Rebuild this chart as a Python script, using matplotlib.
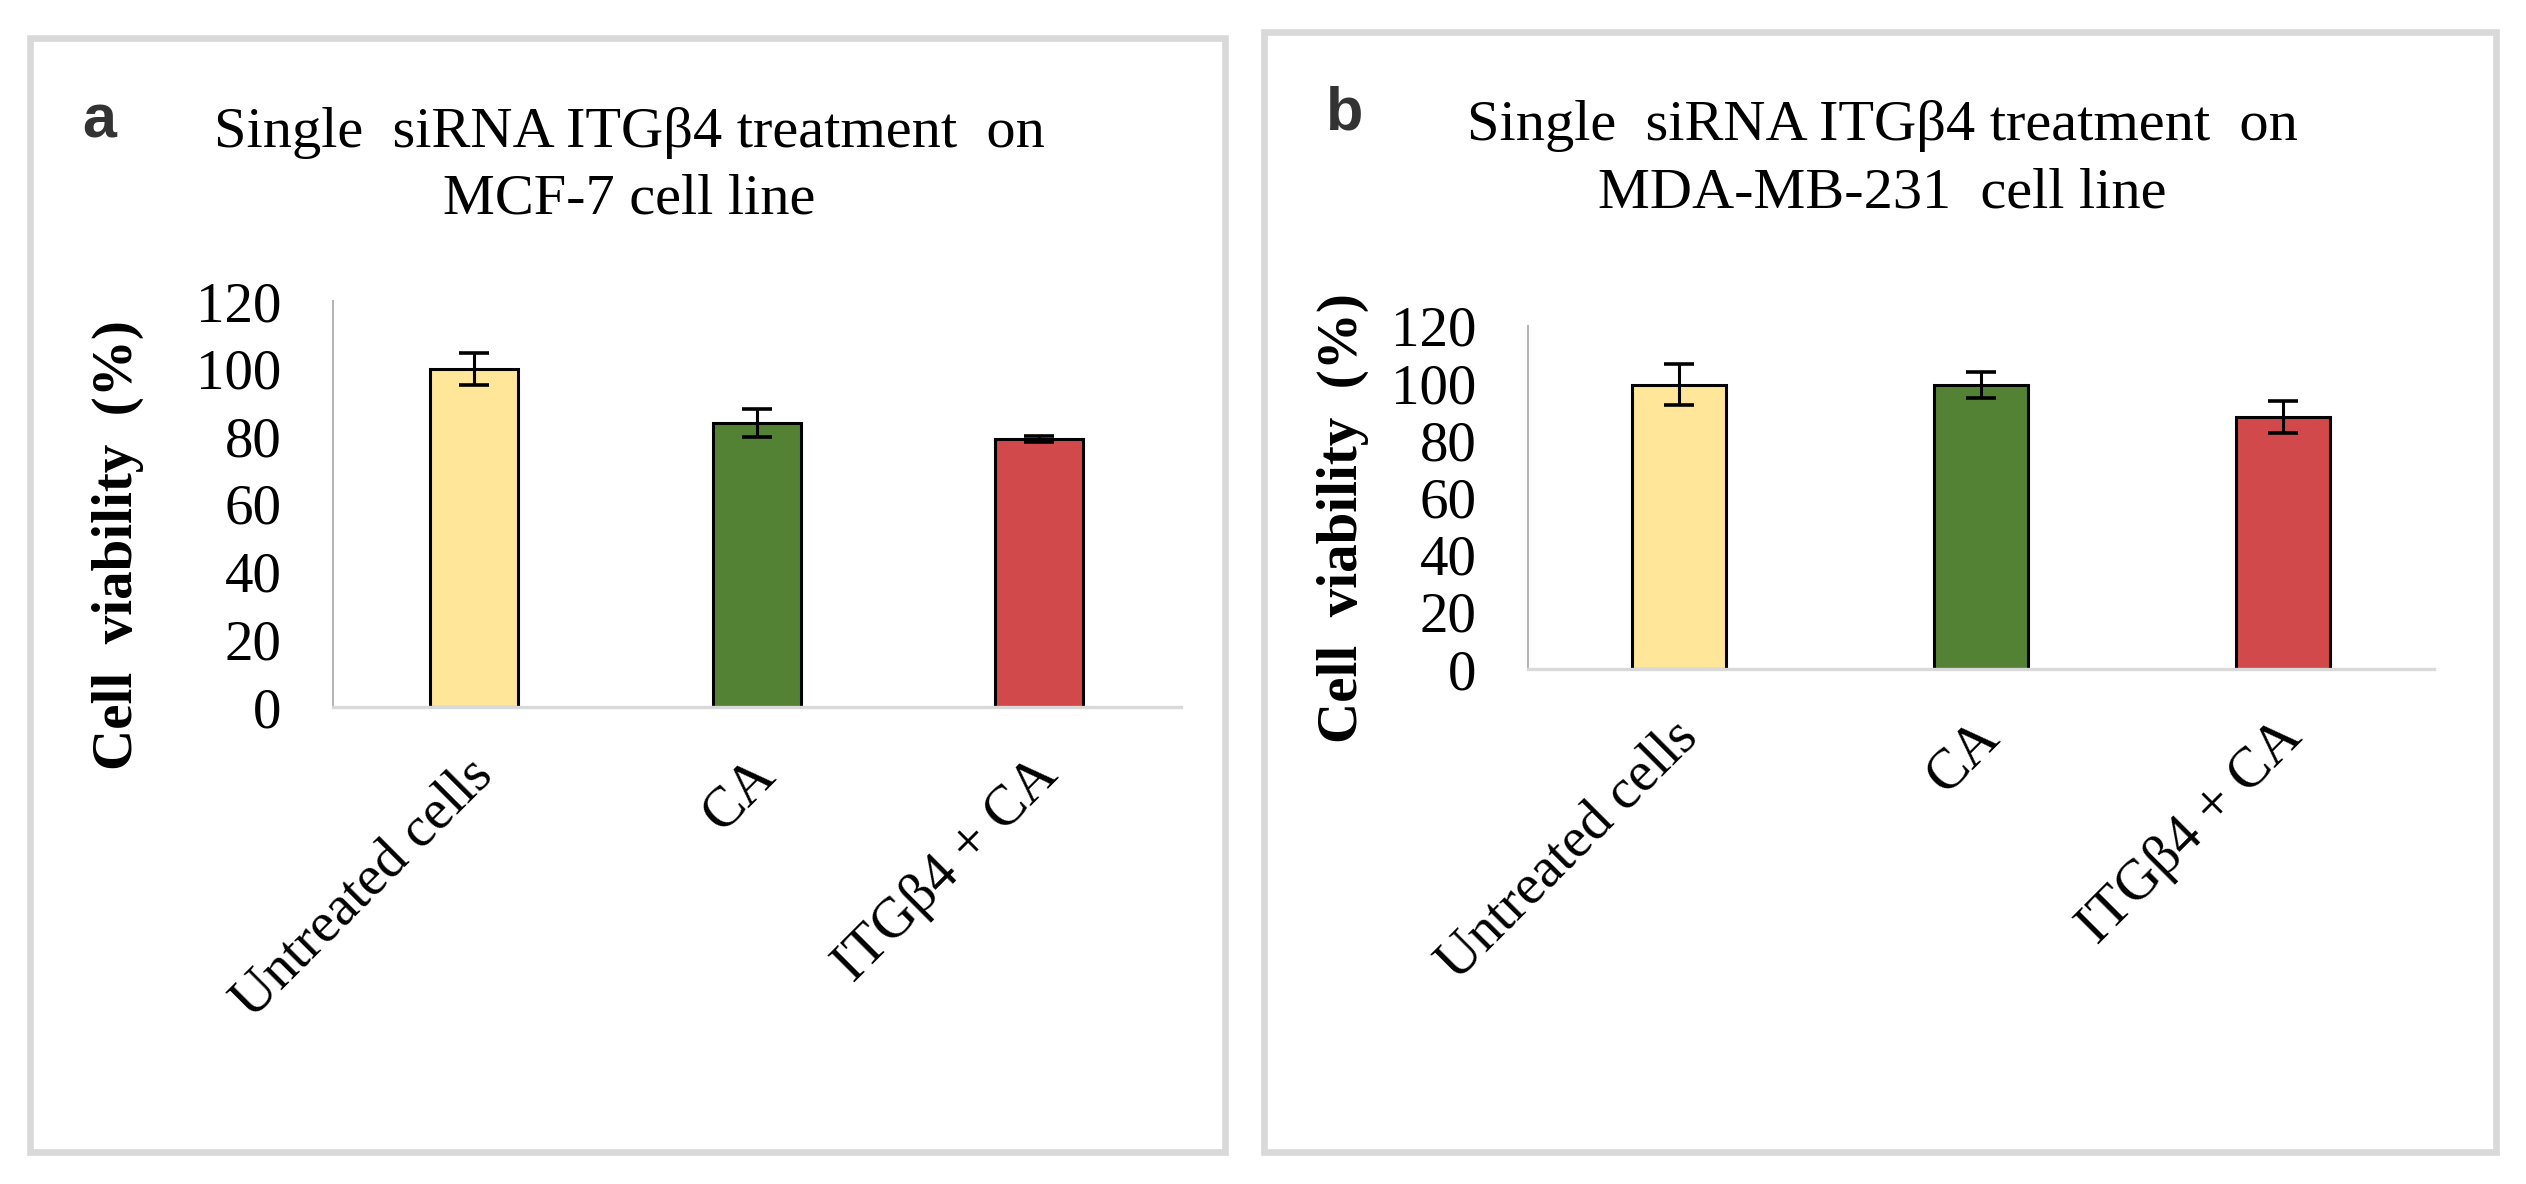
import matplotlib
matplotlib.use("Agg")
import matplotlib.pyplot as plt
import matplotlib.transforms as mtransforms
from matplotlib.patches import Rectangle

# ---------------- data ----------------
categories = ["Untreated cells", "CA", "ITGβ4 + CA"]
mcf7_values = [99.9, 83.9, 79.2]
mcf7_errors = [4.7, 4.1, 0.9]
mda_values = [99.4, 99.4, 88.2]
mda_errors = [7.2, 4.5, 5.6]
yticks = [0, 20, 40, 60, 80, 100, 120]
bar_colors = ["#FFE699", "#548235", "#D2494B"]
title_a = ["Single  siRNA ITGβ4 treatment  on", "MCF-7 cell line"]
title_b = ["Single  siRNA ITGβ4 treatment  on", "MDA-MB-231  cell line"]
ylabel_text = "Cell  viability  (%)"

W, H = 2526, 1184
fig = plt.figure(figsize=(W / 100, H / 100), dpi=100)
fig.patch.set_facecolor("white")

serif = ["Liberation Serif", "DejaVu Serif"]
FS = 41
FS_TITLE = 42


def px_rect(l, t, r, b):
    return [l / W, 1 - b / H, (r - l) / W, (b - t) / H]


# panel frames
for (l, t, r, b) in [(30, 37.5, 1224.5, 1152), (1264, 32, 2495.5, 1152)]:
    fig.patches.append(Rectangle((l / W, 1 - b / H), (r - l) / W, (b - t) / H,
                                 transform=fig.transFigure, fill=False,
                                 edgecolor="#D9D9D9", linewidth=4.8, zorder=0))


def make_panel(rect, values, errors, ylab_xy, titles, title_x, title_y, letter, letter_xy):
    ax = fig.add_axes(px_rect(*rect))
    x = list(range(len(categories)))
    ax.bar(x, values, width=0.31, color=bar_colors, edgecolor="black",
           linewidth=2.2, zorder=1)
    ax.errorbar(x, values, yerr=errors, fmt="none", ecolor="black",
                elinewidth=2.2, capsize=11, capthick=2.6, zorder=3)
    ax.set_xlim(-0.5, len(categories) - 0.5)
    ax.set_ylim(0, 120)
    ax.set_yticks(yticks)
    ax.set_yticklabels([str(v) for v in yticks], fontfamily=serif, fontsize=FS)
    ax.set_xticks(x)
    ax.set_xticklabels(categories, fontfamily=serif, fontsize=FS,
                       rotation=45, ha="right", va="top")
    ax.tick_params(axis="y", length=0, pad=37)
    ax.tick_params(axis="x", length=0, pad=30)
    offset = mtransforms.ScaledTranslation(0.29, 0, fig.dpi_scale_trans)
    for lab in ax.get_xticklabels():
        lab.set_transform(lab.get_transform() + offset)
    for s in ["top", "right"]:
        ax.spines[s].set_visible(False)
    ax.spines["left"].set_color("#B3B3B3")
    ax.spines["left"].set_linewidth(1.4)
    ax.spines["bottom"].set_color("#D9D9D9")
    ax.spines["bottom"].set_linewidth(2.4)
    ax.set_ylabel(ylabel_text, fontfamily=serif, fontsize=FS, fontweight="bold")
    ax.yaxis.label.set_rotation_mode("default")
    ax.yaxis.label.set_va("center")
    ax.yaxis.label.set_ha("center")
    ax.yaxis.set_label_coords(*ylab_xy)
    for line, yb in zip(titles, title_y):
        fig.text(title_x / W, 1 - yb / H, line, ha="center", va="baseline",
                 fontfamily=serif, fontsize=FS_TITLE)
    fig.text(letter_xy[0] / W, 1 - letter_xy[1] / H, letter, ha="left",
             va="baseline", fontfamily=["Liberation Sans", "DejaVu Sans"],
             fontsize=44, fontweight="bold", color="#333333")
    return ax


make_panel((333, 301, 1180.5, 707), mcf7_values, mcf7_errors, (-0.2537, 0.40),
           title_a, 629, (147, 213), "a", (82, 138))
make_panel((1528, 326, 2434, 669), mda_values, mda_errors, (-0.2042, 0.44),
           title_b, 1882, (140, 207), "b", (1326, 130))

fig.savefig("out.png", dpi=100, facecolor="white")
